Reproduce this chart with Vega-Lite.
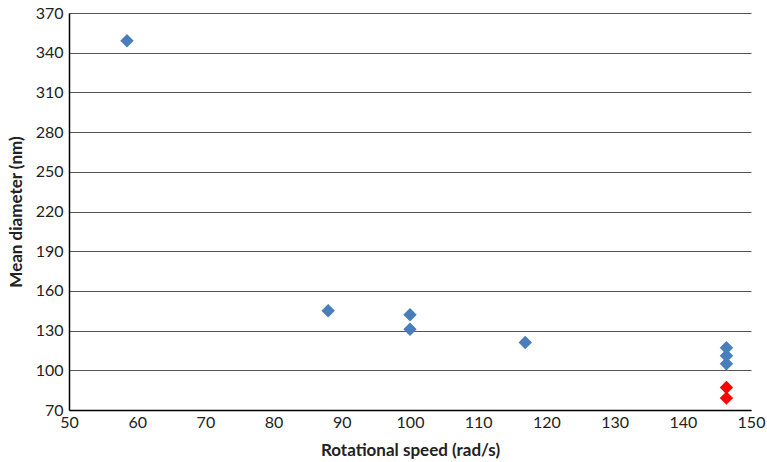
{
  "$schema": "https://vega.github.io/schema/vega-lite/v6.json",
  "width": 682,
  "height": 397,
  "autosize": {"type": "none"},
  "padding": {"left": 69, "top": 13, "right": 16, "bottom": 52},
  "background": "white",
  "config": {"view": {"stroke": null}, "font": "Lato"},
  "data": {"values": [
    {"speed": 58.5, "diameter": 349, "group": "A"},
    {"speed": 88, "diameter": 145, "group": "A"},
    {"speed": 100, "diameter": 142, "group": "A"},
    {"speed": 100, "diameter": 131, "group": "A"},
    {"speed": 116.9, "diameter": 121, "group": "A"},
    {"speed": 146.4, "diameter": 117, "group": "A"},
    {"speed": 146.4, "diameter": 111, "group": "A"},
    {"speed": 146.4, "diameter": 105, "group": "A"},
    {"speed": 146.4, "diameter": 87, "group": "B"},
    {"speed": 146.4, "diameter": 79, "group": "B"}
  ]},
  "mark": {"type": "point", "shape": "diamond", "filled": true, "size": 180, "opacity": 1},
  "encoding": {
    "x": {"field": "speed", "type": "quantitative",
      "scale": {"domain": [50, 150], "nice": false, "zero": false},
      "axis": {"values": [50,60,70,80,90,100,110,120,130,140,150], "grid": false, "ticks": false, "labelFlush": false,
        "domainColor": "#000", "domainWidth": 1.5, "labelFontSize": 16, "labelColor": "#222", "labelPadding": 4,
        "title": "Rotational speed (rad/s)", "titleFontSize": 17, "titleFontWeight": "bold", "titleColor": "#222", "titlePadding": 12}},
    "y": {"field": "diameter", "type": "quantitative",
      "scale": {"domain": [70, 370], "nice": false, "zero": false},
      "axis": {"values": [70,100,130,160,190,220,250,280,310,340,370], "grid": true, "gridColor": "#555", "gridWidth": 1.2, "ticks": false, "labelFlush": false,
        "domainColor": "#000", "domainWidth": 1.5, "labelFontSize": 16, "labelColor": "#222", "labelPadding": 6,
        "title": "Mean diameter (nm)", "titleFontSize": 17, "titleFontWeight": "bold", "titleColor": "#222", "titlePadding": 10}},
    "color": {"field": "group", "type": "nominal", "scale": {"domain": ["A","B"], "range": ["#4a7ebb", "#ff0000"]}, "legend": null}
  }
}
